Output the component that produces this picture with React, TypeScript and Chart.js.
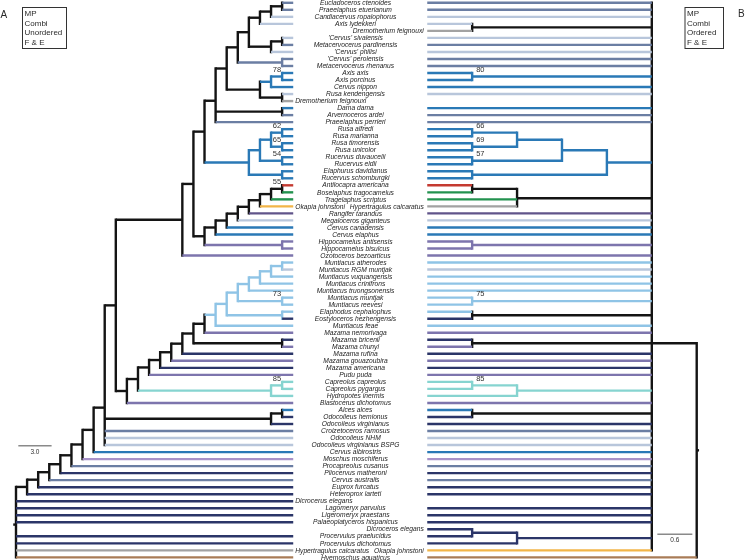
import React, { useEffect, useRef } from "react";
import { Chart, registerables } from "chart.js";
Chart.register(...registerables);

// ---------------- data ----------------
// Taxon names per row, as read in the left tree (MP Combi Unordered F & E)
const TAXA_LEFT: string[] = [
  "Eucladoceros ctenoides", "Praeelaphus etuerianum", "Candiacervus ropalophorus", "Axis lydekkeri", "",
  "'Cervus' sivalensis", "Metacervocerus pardinensis", "'Cervus' philisi", "'Cervus' perolensis", "Metacervocerus rhenanus",
  "Axis axis", "Axis porcinus", "Cervus nippon", "Rusa kendengensis", "Dremotherium feignouxi",
  "Dama dama", "Arvernoceros ardei", "Praeelaphus perrieri", "Rusa alfredi", "Rusa marianna",
  "Rusa timorensis", "Rusa unicolor", "Rucervus duvaucelii", "Rucervus eldii", "Elaphurus davidianus",
  "Rucervus schomburgki", "Antilocapra americana", "Boselaphus tragocamelus", "Tragelaphus scriptus", "Okapia johnstoni",
  "Rangifer tarandus", "Megaloceros giganteus", "Cervus canadensis", "Cervus elaphus", "Hippocamelus antisensis",
  "Hippocamelus bisulcus", "Ozotoceros bezoarticus", "Muntiacus atherodes", "Muntiacus RGM muntjak", "Muntiacus vuquangensis",
  "Muntiacus crinifrons", "Muntiacus truongsonensis", "Muntiacus muntjak", "Muntiacus reevesi", "Elaphodus cephalophus",
  "Eostyloceros hezhengensis", "Muntiacus feae", "Mazama nemorivaga", "Mazama bricenii", "Mazama chunyi",
  "Mazama rufina", "Mazama gouazoubira", "Mazama americana", "Pudu puda", "Capreolus capreolus",
  "Capreolus pygargus", "Hydropotes inermis", "Blastocerus dichotomus", "Alces alces", "Odocoileus hemionus",
  "Odocoileus virginianus", "Croizetoceros ramosus", "Odocoileus NHM", "Odocoileus virginianus BSPG", "Cervus albirostris",
  "Moschus moschiferus", "Procapreolus cusanus", "Pliocervus matheroni", "Cervus australis", "Euprox furcatus",
  "Heteroprox larteti", "Dicrocerus elegans", "Lagomeryx parvulus", "Ligeromeryx praestans", "Palaeoplatyceros hispanicus",
  "", "Procervulus praelucidus", "Procervulus dichotomus", "Hypertragulus calcaratus", "Hyemoschus aquaticus",
];
// Rows where the right tree (MP Combi Ordered F & E) differs
const RIGHT_DIFF: Record<number, string> = {
  4: "Dremotherium feignouxi", 14: "", 29: "Hypertragulus calcaratus",
  71: "", 75: "Dicroceros elegans", 78: "Okapia johnstoni",
};
const TAXA_RIGHT: string[] = TAXA_LEFT.map((n, i) => (i in RIGHT_DIFF ? RIGHT_DIFF[i] : n));

// Colour group of each taxon
const TAXON_GROUP: Record<string, string> = {
  "Eucladoceros ctenoides": "slate", "Praeelaphus etuerianum": "slate", "Candiacervus ropalophorus": "light",
  "Axis lydekkeri": "light", "Dremotherium feignouxi": "grey", "'Cervus' sivalensis": "light",
  "Metacervocerus pardinensis": "slate", "'Cervus' philisi": "light", "'Cervus' perolensis": "slate",
  "Metacervocerus rhenanus": "slate", "Axis axis": "blue", "Axis porcinus": "blue", "Cervus nippon": "blue",
  "Rusa kendengensis": "light", "Dama dama": "blue", "Arvernoceros ardei": "slate", "Praeelaphus perrieri": "slate",
  "Rusa alfredi": "blue", "Rusa marianna": "blue", "Rusa timorensis": "blue", "Rusa unicolor": "blue",
  "Rucervus duvaucelii": "blue", "Rucervus eldii": "blue", "Elaphurus davidianus": "blue", "Rucervus schomburgki": "blue",
  "Antilocapra americana": "red", "Boselaphus tragocamelus": "green", "Tragelaphus scriptus": "green",
  "Okapia johnstoni": "yellow", "Hypertragulus calcaratus": "grey", "Rangifer tarandus": "dpurple",
  "Megaloceros giganteus": "light", "Cervus canadensis": "blue", "Cervus elaphus": "blue",
  "Hippocamelus antisensis": "purple", "Hippocamelus bisulcus": "purple", "Ozotoceros bezoarticus": "purple",
  "Muntiacus atherodes": "sky", "Muntiacus RGM muntjak": "light", "Muntiacus vuquangensis": "sky",
  "Muntiacus crinifrons": "sky", "Muntiacus truongsonensis": "sky", "Muntiacus muntjak": "sky",
  "Muntiacus reevesi": "sky", "Elaphodus cephalophus": "sky", "Eostyloceros hezhengensis": "navy",
  "Muntiacus feae": "sky", "Mazama nemorivaga": "purple", "Mazama bricenii": "navy", "Mazama chunyi": "purple",
  "Mazama rufina": "navy", "Mazama gouazoubira": "purple", "Mazama americana": "navy", "Pudu puda": "purple",
  "Capreolus capreolus": "cyan", "Capreolus pygargus": "cyan", "Hydropotes inermis": "cyan",
  "Blastocerus dichotomus": "purple", "Alces alces": "blue", "Odocoileus hemionus": "navy",
  "Odocoileus virginianus": "navy", "Croizetoceros ramosus": "slate", "Odocoileus NHM": "light",
  "Odocoileus virginianus BSPG": "light", "Cervus albirostris": "blue", "Moschus moschiferus": "lav",
  "Procapreolus cusanus": "slate", "Pliocervus matheroni": "navy", "Cervus australis": "slate",
  "Euprox furcatus": "navy", "Heteroprox larteti": "navy", "Dicrocerus elegans": "navy", "Dicroceros elegans": "navy",
  "Lagomeryx parvulus": "navy", "Ligeromeryx praestans": "navy", "Palaeoplatyceros hispanicus": "navy",
  "Procervulus praelucidus": "navy", "Procervulus dichotomus": "navy", "Hyemoschus aquaticus": "brown",
};

// Tree topology: node = depth from root, children (rows or nodes), branch colour, support value
type Child = number | TNode;
interface TNode { d: number; k: Child[]; c: string; lab?: string; a?: boolean }
const N = (d: number, k: Child[], c = "black", lab?: string, a?: boolean): TNode => ({ d, k, c, lab, a });

const LEFT_TIP_DEPTH = 25;
const L_cerviniA = N(20, [
  N(21, [N(22, [N(23, [N(24, [0, 1]), 2]), 3]), N(23, [N(24, [5, 6]), 7])]),
  N(24, [8, 9], "slate"),
]);
const L_axis = N(22, [N(23, [N(24, [10, 11], "blue", "78"), 12], "blue"), N(24, [13, 14])]);
const L_rusa = N(21, [
  N(22, [
    N(23, [N(24, [18, 19], "blue", "62"), N(24, [20, 21], "blue", "65")], "blue"),
    N(24, [22, 23], "blue", "54"),
  ], "blue"),
  N(24, [24, 25], "blue"),
], "blue");
const L_cervini = N(17, [N(18, [N(19, [L_cerviniA, L_axis]), N(24, [15, 16]), 17]), L_rusa]);
const L_bovid = N(17, [
  N(18, [N(19, [N(20, [N(21, [N(22, [N(23, [N(24, [26, 27], "black", "55"), 28]), 29]), 30]), 31]), 32]), 33]),
  N(24, [34, 35], "purple"),
]);
const L_upper = N(15, [N(16, [L_cervini, L_bovid]), 36]);
const L_munt = N(19, [
  N(20, [
    N(21, [N(22, [N(23, [N(24, [37, 38], "sky"), 39], "sky"), 40], "sky"), 41], "sky"),
    N(24, [42, 43], "sky", "73"),
  ], "sky"),
  N(24, [44, 45], "sky"),
], "sky");
const L_lower = N(10, [
  N(11, [
    N(12, [N(13, [N(14, [N(15, [N(16, [N(17, [N(18, [L_munt, 46], "sky"), 47]), N(24, [48, 49])]), 50]), 51]), 52]), 53]),
    N(23, [N(24, [54, 55], "cyan", "85"), 56], "cyan"),
  ]),
  57,
]);
const LEFT_TREE = N(0, [
  N(1, [N(2, [N(3, [N(4, [N(5, [N(6, [N(7, [
    N(8, [N(9, [L_upper, L_lower]), N(23, [N(24, [58, 59]), 60]), 61, 62, 63]),
    64]), 65]), 66]), 67]), 68]), 69]), 70]),
  71, 72, 73, 74, 76, 77, 78, 79,
]);

const RIGHT_TIP_DEPTH = 4.62;
const R_rusa = N(1.54, [
  N(2.31, [
    N(3.08, [N(3.85, [18, 19], "blue", "66"), N(3.85, [20, 21], "blue", "69")], "blue"),
    N(3.85, [22, 23], "blue", "57"),
  ], "blue"),
  N(3.85, [24, 25], "blue"),
], "blue");
const RIGHT_TREE = N(0, [
  N(0.77, [
    0, 1, 2, N(3.85, [3, 4]), 5, 6, 7, 8, 9,
    N(3.85, [10, 11], "blue", "80"), 12, 13, 15, 16, 17,
    R_rusa,
    N(3.08, [N(3.85, [26, 27]), 28, 29]),
    30, 31, 32, 33, N(3.85, [34, 35], "purple"),
    36, 37, 38, 39, 40, 41,
    N(3.85, [42, 43], "sky", "75"), N(3.85, [44, 45]), 46, 47,
    N(3.85, [48, 49], "black", undefined, true),
    50, 51, 52, 53,
    N(3.08, [N(3.85, [54, 55], "cyan", "85"), 56], "cyan"),
    57, N(3.85, [58, 59]), 60, 61, 62, 63, 64, 65, 66, 67, 68, 69, 70, 72, 73, 74,
    N(3.08, [N(3.85, [75, 76], "navy"), 77], "navy"),
    78,
  ]),
  79,
]);

const SCALE_LEFT = 3.0;
const SCALE_RIGHT = 0.6;

// ---------------- style ----------------
const COLORS: Record<string, string> = {
  black: "#141414", slate: "#6b7ea3", light: "#b8c6db", blue: "#2a79b6", sky: "#8fc4e6",
  navy: "#2b3568", purple: "#7d75ad", dpurple: "#60548a", lav: "#a892c9", cyan: "#86d4d0",
  red: "#c43a31", green: "#23924f", yellow: "#f2b548", grey: "#a2a2a2", brown: "#a97c57",
};
const W = 746, H = 560;
const LINE_W = 2.4;
const LABEL_FONT = 'italic 6.7px "Liberation Sans", Arial, sans-serif';

interface Seg { x0: number; y0: number; x1: number; y1: number; color: string; v: boolean; axis: string }
interface Lab { x: number; y: number; text: string; axis: string }

function build(root: TNode, tipDepth: number, names: string[], axis: string, stem: number, segs: Seg[], labs: Lab[]) {
  const walk = (node: TNode): number => {
    const ys = node.k.map((ch) => (typeof ch === "number" ? ch : walk(ch)));
    const ai = node.k.findIndex((ch) => typeof ch !== "number" && (ch as TNode).a);
    const y = ai >= 0 ? ys[ai] : ys.reduce((s, v) => s + v, 0) / ys.length;
    node.k.forEach((ch, i) => {
      const isTip = typeof ch === "number";
      const cd = isTip ? tipDepth : (ch as TNode).d;
      const col = isTip ? COLORS[TAXON_GROUP[names[ch as number]] || "black"] : COLORS[(ch as TNode).c];
      segs.push({ x0: node.d, y0: ys[i], x1: cd, y1: ys[i], color: col, v: false, axis });
    });
    segs.push({ x0: node.d, y0: Math.min(...ys), x1: node.d, y1: Math.max(...ys), color: COLORS[node.c], v: true, axis });
    if (node.lab) labs.push({ x: node.d, y: ys[0], text: node.lab, axis });
    return y;
  };
  const ry = walk(root);
  segs.push({ x0: root.d - stem, y0: ry, x1: root.d, y1: ry, color: COLORS.black, v: false, axis });
}

export default function App() {
  const ref = useRef<HTMLCanvasElement | null>(null);
  useEffect(() => {
    document.body.style.margin = "0";
    const segs: Seg[] = [];
    const labs: Lab[] = [];
    build(LEFT_TREE, LEFT_TIP_DEPTH, TAXA_LEFT, "xl", 0.25, segs, labs);
    build(RIGHT_TREE, RIGHT_TIP_DEPTH, TAXA_RIGHT, "xr", 0.04, segs, labs);
    const ordered = [...segs.filter((s) => !s.v), ...segs.filter((s) => s.v)];
    const datasets: any[] = ordered.map((s) => ({
      data: [{ x: s.x0, y: s.y0 }, { x: s.x1, y: s.y1 }],
      xAxisID: s.axis, yAxisID: "y", showLine: true, borderColor: s.color, borderWidth: LINE_W,
      pointRadius: 0, borderCapStyle: s.v ? "square" : "butt", fill: false, tension: 0,
    }));
    // scale bars
    const barLY = 63.09, barRY = 75.71;
    datasets.push({
      data: [{ x: 0.21, y: barLY }, { x: 0.21 + SCALE_LEFT, y: barLY }], xAxisID: "xl", yAxisID: "y",
      showLine: true, borderColor: "#8a8a8a", borderWidth: 1.5, pointRadius: 0,
    });
    datasets.push({
      data: [{ x: 0.075, y: barRY }, { x: 0.075 + SCALE_RIGHT, y: barRY }], xAxisID: "xr", yAxisID: "y",
      showLine: true, borderColor: "#8a8a8a", borderWidth: 1.5, pointRadius: 0,
    });

    const textPlugin = {
      id: "treeText",
      afterDatasetsDraw(chart: any) {
        const ctx: CanvasRenderingContext2D = chart.ctx;
        const xl = chart.scales.xl, xr = chart.scales.xr, y = chart.scales.y;
        ctx.save();
        ctx.fillStyle = "#1c1c1c";
        ctx.textBaseline = "middle";
        ctx.font = LABEL_FONT;
        const lx = xl.getPixelForValue(LEFT_TIP_DEPTH) + 2;
        const rx = xr.getPixelForValue(RIGHT_TIP_DEPTH) - 3.5;
        const cx = (lx + rx) / 2 - 4;
        for (let r = 0; r < TAXA_LEFT.length; r++) {
          const L = TAXA_LEFT[r], R = TAXA_RIGHT[r];
          const py = y.getPixelForValue(r) + 0.3;
          if (L === R) {
            ctx.textAlign = "center";
            ctx.fillText(L, cx, py);
          } else {
            if (L) { ctx.textAlign = "left"; ctx.fillText(L, lx, py); }
            if (R) { ctx.textAlign = "right"; ctx.fillText(R, rx, py); }
          }
        }
        // support values
        ctx.font = '7.5px "Liberation Sans", Arial, sans-serif';
        ctx.textBaseline = "alphabetic";
        ctx.fillStyle = "#333";
        labs.forEach((l) => {
          const py = y.getPixelForValue(l.y) - 1.2;
          if (l.axis === "xl") {
            ctx.textAlign = "right";
            ctx.fillText(l.text, xl.getPixelForValue(l.x) - 1, py);
          } else {
            ctx.textAlign = "left";
            ctx.fillText(l.text, xr.getPixelForValue(l.x) + 4, py);
          }
        });
        // scale bar labels
        ctx.font = '6.5px "Liberation Sans", Arial, sans-serif';
        ctx.textAlign = "center";
        ctx.textBaseline = "middle";
        ctx.fillText(SCALE_LEFT.toFixed(1), xl.getPixelForValue(0.21 + SCALE_LEFT / 2), y.getPixelForValue(barLY) + 7);
        ctx.fillText(SCALE_RIGHT.toFixed(1), xr.getPixelForValue(0.075 + SCALE_RIGHT / 2), y.getPixelForValue(barRY) + 6);
        // panel boxes
        const box = (x: number, lines: string[], bw: number) => {
          ctx.strokeStyle = "#333";
          ctx.lineWidth = 1;
          ctx.strokeRect(x + 0.5, 7.5, bw, 41);
          ctx.font = '8px "Liberation Sans", Arial, sans-serif';
          ctx.textAlign = "left";
          ctx.fillStyle = "#2a2a2a";
          lines.forEach((s, i) => ctx.fillText(s, x + 2.5, 13.5 + i * 9.8));
        };
        box(22, ["MP", "Combi", "Unordered", "F & E"], 44);
        box(684.5, ["MP", "Combi", "Ordered", "F & E"], 38.5);
        ctx.font = '10px "Liberation Sans", Arial, sans-serif';
        ctx.fillText("A", 0.5, 15);
        ctx.fillText("B", 738, 14);
        ctx.restore();
      },
    };

    const chart = new Chart(ref.current as HTMLCanvasElement, {
      type: "scatter",
      data: { datasets },
      options: {
        animation: false,
        responsive: false,
        maintainAspectRatio: false,
        events: [],
        layout: { padding: 0 },
        plugins: { legend: { display: false }, tooltip: { enabled: false }, title: { display: false } },
        scales: {
          xl: { type: "linear", axis: "x", display: false, min: -1.443, max: 65.83 },
          xr: { type: "linear", axis: "x", display: false, reverse: true, min: -0.845, max: 11.945 },
          y: { type: "linear", display: false, reverse: true, min: -0.399, max: 79.373 },
        } as any,
      },
      plugins: [textPlugin],
    });
    return () => chart.destroy();
  }, []);
  return (
    <div style={{ width: W, height: H, background: "#fff" }}>
      <canvas ref={ref} width={W} height={H} style={{ display: "block" }} />
    </div>
  );
}
